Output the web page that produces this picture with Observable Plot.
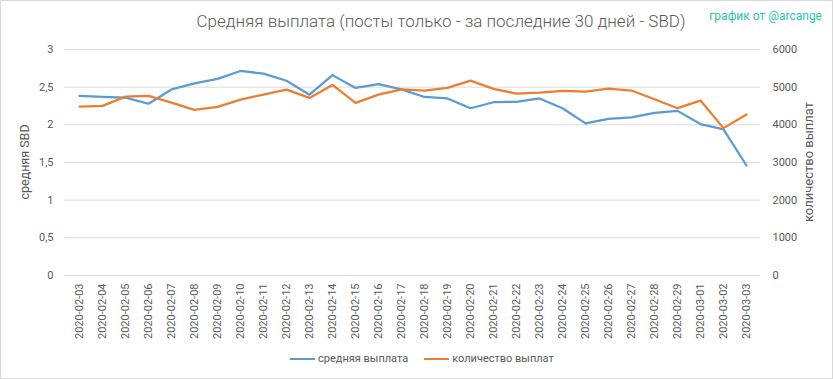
<!DOCTYPE html>
<html>
<head>
<meta charset="utf-8">
<script src="https://cdn.jsdelivr.net/npm/d3@7"></script>
<script src="https://cdn.jsdelivr.net/npm/@observablehq/plot@0.6"></script>
<style>
  html, body { margin: 0; padding: 0; background: #fff; }
  #chart { position: relative; width: 833px; height: 379px; background: #fff; overflow: hidden;
           font-family: Roboto, "Liberation Sans", sans-serif; color: #595959; }
  #frame { position: absolute; left: 0; top: 0; width: 831px; height: 377px; border: 1px solid #d9d9d9; pointer-events: none; }
  #title { position: absolute; left: 441px; top: 11px; transform: translateX(-50%); white-space: nowrap;
           font-size: 17px; color: #595959; font-weight: 300; }
  #credit { position: absolute; right: 11px; top: 9px; white-space: nowrap; font-size: 12px; color: #2ec4a6; }
  #plot { position: absolute; left: 0; top: 0; }
  .ytitle { position: absolute; top: 162px; white-space: nowrap; font-size: 12.5px; color: #595959;
            transform: translate(-50%, -50%) rotate(-90deg); line-height: 1; }
  #ylabelLeft { left: 25px; }
  #ylabelRight { left: 808px; font-size: 13px; }
  #legend { position: absolute; top: 352px; left: 290px; display: flex; align-items: center; font-size: 11px; color: #595959; white-space: nowrap; }
  .sw { display: inline-block; width: 25px; height: 0; border-top: 2.5px solid; margin-right: 3px; }
  .item { display: flex; align-items: center; margin-right: 16px; }
</style>
</head>
<body>
<div id="chart">
  <div id="plot"></div>
  <div id="title"></div>
  <div id="credit"></div>
  <div id="ylabelLeft" class="ytitle"></div>
  <div id="ylabelRight" class="ytitle"></div>
  <div id="legend"></div>
  <div id="frame"></div>
</div>
<script>
const titleText = "Средняя выплата (посты только - за последние 30 дней - SBD)";
const creditText = "график от @arcange";
const leftAxisLabel = "средняя SBD";
const rightAxisLabel = "количество выплат";
const seriesNames = ["средняя выплата", "количество выплат"];
const seriesColors = ["#5b9bd5", "#ed7d31"];

const dates = [
  "2020-02-03","2020-02-04","2020-02-05","2020-02-06","2020-02-07","2020-02-08","2020-02-09",
  "2020-02-10","2020-02-11","2020-02-12","2020-02-13","2020-02-14","2020-02-15","2020-02-16",
  "2020-02-17","2020-02-18","2020-02-19","2020-02-20","2020-02-21","2020-02-22","2020-02-23",
  "2020-02-24","2020-02-25","2020-02-26","2020-02-27","2020-02-28","2020-02-29","2020-03-01",
  "2020-03-02","2020-03-03"
];

const avgPayout = [2.384,2.37,2.36,2.28,2.47,2.55,2.61,2.715,2.68,2.585,2.40,2.66,2.49,2.54,2.47,
  2.37,2.35,2.22,2.30,2.305,2.35,2.22,2.02,2.08,2.10,2.16,2.185,2.01,1.94,1.46];
const payoutCount = [4485,4503,4750,4768,4591,4397,4477,4670,4803,4936,4715,5060,4582,4803,4940,
  4910,4980,5174,4954,4830,4856,4900,4883,4962,4910,4680,4442,4644,3912,4273];

const leftTicks = [0, 0.5, 1, 1.5, 2, 2.5, 3];
const rightTicks = [0, 1000, 2000, 3000, 4000, 5000, 6000];
const ratio = 2000; // right axis / left axis

const rows = dates.map((d, i) => ({date: d, avg: avgPayout[i], count: payoutCount[i]}));

const chart = Plot.plot({
  width: 833,
  height: 340,
  marginTop: 49,
  marginBottom: 65,
  marginLeft: 64,
  marginRight: 73,
  style: {fontFamily: "Roboto, 'Liberation Sans', sans-serif", fontSize: "11px", color: "#595959", background: "transparent", overflow: "visible"},
  x: {type: "point", domain: dates, padding: 0.5},
  y: {domain: [0, 3]},
  marks: [
    Plot.ruleY(leftTicks, {stroke: "#d9d9d9", strokeWidth: 1}),
    Plot.axisY(leftTicks, {anchor: "left", tickSize: 0, tickPadding: 11,
      tickFormat: d => String(d).replace(".", ","), label: null}),
    Plot.axisY(rightTicks.map(v => v / ratio), {anchor: "right", tickSize: 0, tickPadding: 12,
      tickFormat: d => String(Math.round(d * ratio)), label: null}),
    Plot.axisX({tickRotate: -90, tickSize: 0, tickPadding: 8, label: null}),
    Plot.line(rows, {x: "date", y: "avg", stroke: seriesColors[0], strokeWidth: 2.25}),
    Plot.line(rows, {x: "date", y: d => d.count / ratio, stroke: seriesColors[1], strokeWidth: 2.25})
  ]
});
document.getElementById("plot").appendChild(chart);
document.getElementById("title").textContent = titleText;
document.getElementById("credit").textContent = creditText;
document.getElementById("ylabelLeft").textContent = leftAxisLabel;
document.getElementById("ylabelRight").textContent = rightAxisLabel;
const legend = document.getElementById("legend");
seriesNames.forEach((n, i) => {
  const it = document.createElement("div");
  it.className = "item";
  const sw = document.createElement("span");
  sw.className = "sw";
  sw.style.borderColor = seriesColors[i];
  const t = document.createElement("span");
  t.textContent = n;
  it.appendChild(sw); it.appendChild(t);
  legend.appendChild(it);
});
</script>
</body>
</html>
